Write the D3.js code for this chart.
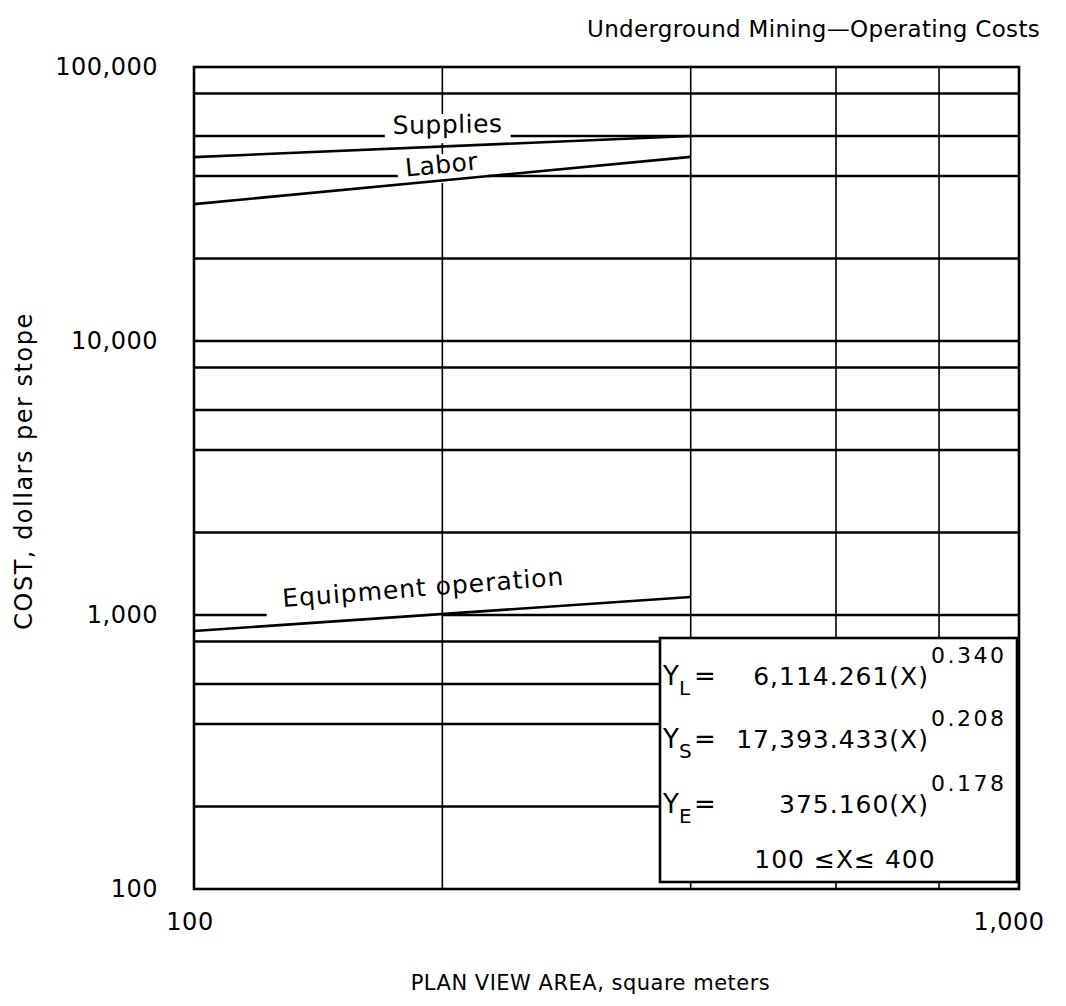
<!DOCTYPE html>
<html>
<head>
<meta charset="utf-8">
<script src="https://cdn.jsdelivr.net/npm/d3@7"></script>
<style>
  html, body { margin: 0; padding: 0; background: #fff; }
  svg { display: block; }
  text { font-family: "DejaVu Sans", sans-serif; fill: #000; }
</style>
</head>
<body>
<script>
// ---------- data ----------
const chartTitle = "Underground Mining\u2014Operating Costs";
const xAxisTitle = "PLAN VIEW AREA, square meters";
const yAxisTitle = "COST, dollars per stope";

const xTickValues = [100, 1000];
const xTickLabels = ["100", "1,000"];
const yTickValues = [100, 1000, 10000, 100000];
const yTickLabels = ["100", "1,000", "10,000", "100,000"];

const xGridValues = [200, 400, 600, 800];
const yGridValues = [200, 400, 560, 800, 1000, 2000, 4000, 5600, 8000, 10000, 20000, 40000, 56000, 80000];

const seriesNames = ["Supplies", "Labor", "Equipment operation"];
const areaX = [100, 400];
const suppliesCost = [46900, 56000];
const laborCost = [31600, 47000];
const equipmentCost = [874, 1163];

// label anchors (data space)
const labelX = [203, 200, 190];
const labelY = [56000, 40000, 1000];
const labelAngle = [-1, -5.5, -4.5];

const equationNames = ["L", "S", "E"];
const equationCoefs = ["6,114.261", "17,393.433", "375.160"];
const equationExps = ["0.340", "0.208", "0.178"];
const rangeText = "100 \u2264X\u2264 400";

// ---------- layout ----------
const W = 1066, H = 1006;
const plot = { left: 194, right: 1019, top: 67, bottom: 889 };

const svg = d3.select("body").append("svg").attr("width", W).attr("height", H);

const x = d3.scaleLog().domain([100, 1000]).range([plot.left, plot.right]);
const y = d3.scaleLog().domain([100, 100000]).range([plot.bottom, plot.top]);

// horizontal gridlines
const gH = svg.append("g");
gH.selectAll("line").data(yGridValues).join("line")
  .attr("x1", plot.left).attr("x2", plot.right)
  .attr("y1", d => y(d)).attr("y2", d => y(d))
  .attr("stroke", "#000").attr("stroke-width", 2.4);

// gap in 1,000 gridline under equipment label
const gGap = svg.append("g");

// vertical gridlines
const gV = svg.append("g");
gV.selectAll("line").data(xGridValues).join("line")
  .attr("x1", d => x(d)).attr("x2", d => x(d))
  .attr("y1", plot.top).attr("y2", plot.bottom)
  .attr("stroke", "#000").attr("stroke-width", 1.6);

// series
const seriesData = [suppliesCost, laborCost, equipmentCost];
const line = d3.line().x(d => x(d[0])).y(d => y(d[1]));
const gSeries = svg.append("g");

// series labels (with white knock-out behind Supplies / Labor)
const gLabels = svg.append("g");
seriesNames.forEach((name, i) => {
  const cx = x(labelX[i]);
  const by = y(labelY[i]) + (i === 2 ? -19 : -3);
  const g = (i < 2 ? gSeries : gLabels).append("g")
    .attr("transform", `translate(${cx},${by}) rotate(${labelAngle[i]})`);
  const t = g.append("text").attr("text-anchor", "middle")
    .attr("font-size", 25).attr("letter-spacing", i === 2 ? 1 : 0.5).text(name);
  const bb = t.node().getBBox();
  if (i < 2) {
    g.insert("rect", "text")
      .attr("x", bb.x - 8).attr("y", bb.y + 4)
      .attr("width", bb.width + 16).attr("height", bb.height)
      .attr("fill", "#fff");
  } else {
    const left = cx + bb.x - 16;
    gGap.append("rect")
      .attr("x", left).attr("y", y(labelY[i]) - 3)
      .attr("width", x(xGridValues[0]) - left).attr("height", 6)
      .attr("fill", "#fff");
  }
});

gSeries.selectAll("path").data(seriesData).join("path")
  .attr("d", vals => line(areaX.map((a, i) => [a, vals[i]])))
  .attr("fill", "none").attr("stroke", "#000").attr("stroke-width", 2.6);

// frame
svg.append("rect")
  .attr("x", plot.left).attr("y", plot.top)
  .attr("width", plot.right - plot.left).attr("height", plot.bottom - plot.top)
  .attr("fill", "none").attr("stroke", "#000").attr("stroke-width", 2.6);

// y tick labels
svg.append("g").selectAll("text").data(yTickValues).join("text")
  .attr("x", 158).attr("y", d => y(d)).attr("dy", "0.33em")
  .attr("text-anchor", "end").attr("font-size", 24).attr("letter-spacing", 0.5)
  .text((d, i) => yTickLabels[i]);

// x tick labels
svg.append("g").selectAll("text").data(xTickValues).join("text")
  .attr("x", d => x(d)).attr("y", 930)
  .attr("dx", (d, i) => i === xTickValues.length - 1 ? -10 : -4)
  .attr("text-anchor", "middle").attr("font-size", 24).attr("letter-spacing", 0.5)
  .text((d, i) => xTickLabels[i]);

// titles
svg.append("text").attr("x", 1040).attr("y", 37).attr("text-anchor", "end")
  .attr("font-size", 23).attr("letter-spacing", 0.3).text(chartTitle);
svg.append("text").attr("x", (plot.left + plot.right) / 2 - 16).attr("y", 990)
  .attr("text-anchor", "middle").attr("font-size", 21).attr("letter-spacing", 0.5).text(xAxisTitle);
svg.append("text").attr("transform", `translate(32,471) rotate(-90)`)
  .attr("text-anchor", "middle").attr("font-size", 24).attr("letter-spacing", 1.5).text(yAxisTitle);

// equation box
const box = { x: 660, y: 638, w: 357, h: 244 };
const gb = svg.append("g");
gb.append("rect").attr("x", box.x).attr("y", box.y).attr("width", box.w).attr("height", box.h)
  .attr("fill", "#fff").attr("stroke", "#000").attr("stroke-width", 2.6);
const rowBase = [685, 748, 813];
equationNames.forEach((n, i) => {
  const b = rowBase[i];
  gb.append("text").attr("x", box.x + 3).attr("y", b).attr("font-size", 26).text("Y");
  gb.append("text").attr("x", box.x + 19).attr("y", b + 10).attr("font-size", 20).text(n);
  gb.append("text").attr("x", box.x + 34).attr("y", b).attr("font-size", 26).text("=");
  gb.append("text").attr("x", 929).attr("y", b).attr("text-anchor", "end")
    .attr("font-size", 25).attr("letter-spacing", 1).text(equationCoefs[i] + "(X)");
  gb.append("text").attr("x", 931).attr("y", b - 22).attr("font-size", 22)
    .attr("letter-spacing", 2.5).text(equationExps[i]);
});
gb.append("text").attr("x", 845).attr("y", 868).attr("text-anchor", "middle")
  .attr("font-size", 25).attr("letter-spacing", 1).text(rangeText);
</script>
</body>
</html>
